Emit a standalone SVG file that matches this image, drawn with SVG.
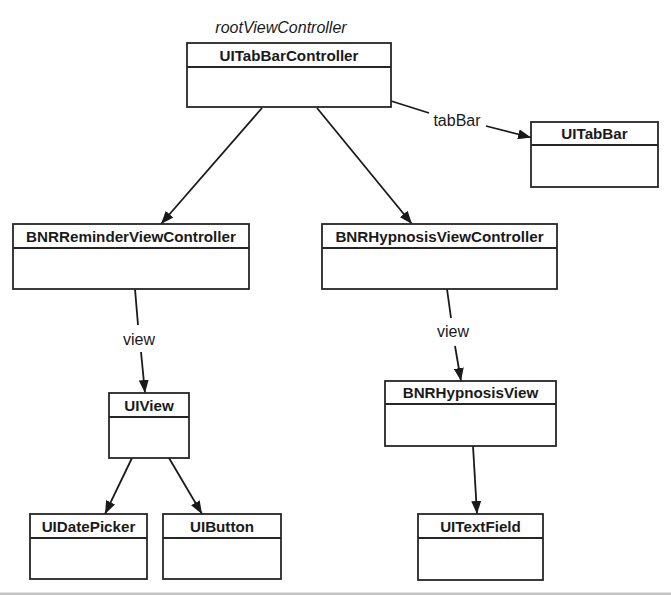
<svg xmlns="http://www.w3.org/2000/svg" width="671" height="595" viewBox="0 0 671 595">
<style>
.box{fill:#fff;stroke:#262626;stroke-width:1.8}
.div{stroke:#262626;stroke-width:1.8}
.title{font-family:"Liberation Sans",Arial,sans-serif;font-weight:bold;font-size:15.2px;fill:#1a1a1a;text-anchor:middle}
.lbl{font-family:"Liberation Sans",Arial,sans-serif;font-size:16px;fill:#1a1a1a;text-anchor:middle}
.conn{stroke:#1a1a1a;stroke-width:1.8;fill:none}
</style>
<defs>
<marker id="arr" markerUnits="userSpaceOnUse" markerWidth="14" markerHeight="10" refX="13" refY="5" orient="auto">
<path d="M0,0 L13,5 L0,10 z" fill="#1a1a1a"/>
</marker>
</defs>
<rect width="671" height="595" fill="#fff"/>
<rect x="0" y="592.5" width="671" height="2.5" fill="#c4c4c4"/>

<g id="connectors">
<line class="conn" x1="262" y1="108" x2="161" y2="224" marker-end="url(#arr)"/>
<line class="conn" x1="317" y1="108" x2="412" y2="224" marker-end="url(#arr)"/>
<line class="conn" x1="391" y1="101" x2="429" y2="113"/>
<line class="conn" x1="486" y1="126" x2="531" y2="137.5" marker-end="url(#arr)"/>
<line class="conn" x1="135" y1="289" x2="138" y2="325"/>
<line class="conn" x1="141" y1="352" x2="145" y2="393" marker-end="url(#arr)"/>
<line class="conn" x1="447" y1="289" x2="451" y2="318"/>
<line class="conn" x1="455" y1="346" x2="461" y2="381" marker-end="url(#arr)"/>
<line class="conn" x1="132" y1="458" x2="105" y2="514" marker-end="url(#arr)"/>
<line class="conn" x1="169" y1="458" x2="202" y2="514" marker-end="url(#arr)"/>
<line class="conn" x1="473" y1="446" x2="477" y2="514" marker-end="url(#arr)"/>
<text class="lbl" x="457" y="126">tabBar</text>
<text class="lbl" x="139" y="345">view</text>
<text class="lbl" x="453" y="337">view</text>
</g>

<text class="lbl" x="281" y="33" font-style="italic" font-size="15.2">rootViewController</text>

<g id="UITabBarController">
<rect class="box" x="187" y="43" width="204" height="64"/>
<line class="div" x1="187" y1="67" x2="391" y2="67"/>
<text class="title" x="289" y="60.5">UITabBarController</text>
</g>
<g id="UITabBar">
<rect class="box" x="531" y="122" width="127" height="65"/>
<line class="div" x1="531" y1="145" x2="658" y2="145"/>
<text class="title" x="594.5" y="139">UITabBar</text>
</g>
<g id="BNRReminderViewController">
<rect class="box" x="13" y="224" width="236" height="65"/>
<line class="div" x1="13" y1="248" x2="249" y2="248"/>
<text class="title" x="131" y="241.5">BNRReminderViewController</text>
</g>
<g id="BNRHypnosisViewController">
<rect class="box" x="322" y="224" width="235" height="65"/>
<line class="div" x1="322" y1="248" x2="557" y2="248"/>
<text class="title" x="439.5" y="241.5">BNRHypnosisViewController</text>
</g>
<g id="UIView">
<rect class="box" x="109" y="393" width="80" height="65"/>
<line class="div" x1="109" y1="417" x2="189" y2="417"/>
<text class="title" x="149" y="410.5">UIView</text>
</g>
<g id="BNRHypnosisView">
<rect class="box" x="385" y="381" width="171" height="65"/>
<line class="div" x1="385" y1="404" x2="556" y2="404"/>
<text class="title" x="470.5" y="398">BNRHypnosisView</text>
</g>
<g id="UIDatePicker">
<rect class="box" x="30" y="514" width="117" height="65"/>
<line class="div" x1="30" y1="538" x2="147" y2="538"/>
<text class="title" x="88.5" y="531.5">UIDatePicker</text>
</g>
<g id="UIButton">
<rect class="box" x="163" y="514" width="118" height="65"/>
<line class="div" x1="163" y1="538" x2="281" y2="538"/>
<text class="title" x="222" y="531.5">UIButton</text>
</g>
<g id="UITextField">
<rect class="box" x="418" y="514" width="125" height="66"/>
<line class="div" x1="418" y1="538" x2="543" y2="538"/>
<text class="title" x="480.5" y="531.5">UITextField</text>
</g>
</svg>
